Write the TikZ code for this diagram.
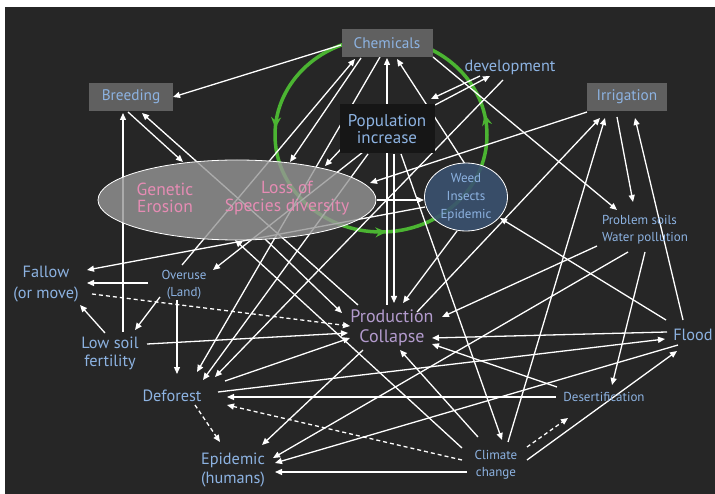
\documentclass[tikz,border=0pt]{standalone}
\usepackage{fontspec}
\setmainfont{PT Sans}
\usetikzlibrary{arrows.meta,shapes.geometric,decorations.markings}
\definecolor{bgdark}{RGB}{38,38,38}
\definecolor{boxgrey}{RGB}{96,96,96}
\definecolor{popbox}{RGB}{22,22,22}
\definecolor{labblue}{RGB}{141,179,226}
\definecolor{prodpurple}{RGB}{179,155,205}
\definecolor{pinktxt}{RGB}{230,140,180}
\definecolor{ellgrey}{RGB}{150,150,150}
\definecolor{weedblue}{RGB}{58,82,112}
\definecolor{greenarc}{RGB}{75,180,50}
\pgfdeclarelayer{bg}
\pgfdeclarelayer{fg}
\pgfsetlayers{bg,main,fg}
\tikzset{
  conn/.style={draw=white, line width=1.3pt, -{Triangle[length=7pt,width=6pt]}},
  dconn/.style={conn, dash pattern=on 4pt off 3pt},
  lbl/.style={text=labblue, align=center, inner sep=0pt},
  big/.style={font=\fontsize{16.3}{19}\selectfont},
  small/.style={font=\fontsize{13}{17}\selectfont},
  greybox/.style={fill=boxgrey, text=labblue, minimum height=28pt, inner sep=0pt, font=\fontsize{15.3}{17}\selectfont}
}
\begin{document}
\begin{tikzpicture}[x=1pt,y=-1pt]
\useasboundingbox (0,0) rectangle (715,494);
\begin{pgfonlayer}{bg}
\fill[white] (0,0) rectangle (715,494);
\fill[bgdark] (5,7) rectangle (715,494);
\begin{scope}[x=1pt,y=1pt]
\draw[greenarc, line width=3.5pt, postaction={decorate},
  decoration={markings,
    mark=at position 0.24 with {\arrow{Stealth[length=11pt,width=10pt]}},
    mark=at position 0.51 with {\arrow{Stealth[length=11pt,width=10pt]}},
    mark=at position 0.785 with {\arrow{Stealth[length=11pt,width=10pt]}}}]
  (381,-38) arc[start angle=90, end angle=449, x radius=106pt, y radius=97pt];
\end{scope}
\end{pgfonlayer}

\begin{pgfonlayer}{fg}
\node[ellipse, draw=white, line width=0.8pt, fill=ellgrey, fill opacity=0.8, minimum width=278pt, minimum height=80pt, inner sep=0pt] (ell) at (237,200) {};
\node[text=pinktxt, align=center, inner sep=0pt, font=\fontsize{17.5}{17.5}\selectfont] (gen) at (165,198) {Genetic\\Erosion};
\node[text=pinktxt, align=center, inner sep=0pt, font=\fontsize{17.5}{17.5}\selectfont] (loss) at (287,198) {Loss of\\Species diversity};
\node[ellipse, draw=white, line width=0.8pt, fill=weedblue, fill opacity=0.9, text opacity=1, minimum width=83pt, minimum height=68pt, inner sep=0pt, text=labblue, align=center, font=\fontsize{13}{18}\selectfont] (weed) at (466,197) {Weed\\Insects\\Epidemic};
\node[greybox, minimum width=91pt] (chem) at (387,43) {Chemicals};
\node[greybox, minimum width=84pt] (breed) at (131,97) {Breeding};
\node[greybox, minimum width=80pt] (irr) at (627,97) {Irrigation};
\node[fill=popbox, minimum width=95pt, minimum height=49pt, inner sep=0pt, text=labblue, align=center, font=\fontsize{17}{17}\selectfont] (pop) at (387,129) {Population\\increase};
\node[lbl, big] (dev) at (510,67) {development};
\node[text=labblue, align=left, inner sep=0pt, small] (prob) at (645,230) {Problem soils\\Water pollution};
\node[lbl, font=\fontsize{16.3}{21}\selectfont] (fallow) at (46,284) {Fallow\\(or move)};
\node[lbl, small] (overuse) at (184,285) {Overuse\\(Land)};
\node[lbl, font=\fontsize{16.3}{18}\selectfont] (lowsoil) at (110,353) {Low soil\\fertility};
\node[lbl, big] (deforest) at (172,396) {Deforest};
\node[lbl, font=\fontsize{16.3}{19}\selectfont] (epi) at (233,470) {Epidemic\\(humans)};
\node[text=prodpurple, align=center, inner sep=0pt, font=\fontsize{18}{20}\selectfont] (prod) at (392,328) {Production\\Collapse};
\node[lbl, big] (flood) at (693,335) {Flood};
\node[lbl, small] (desert) at (604,397) {Desertification};
\node[lbl, small] (climate) at (496,465) {Climate\\change};
\end{pgfonlayer}

% connectors
\draw[conn] ([shift={(-46,2)}]chem.center) -- ([shift={(42,0)}]breed.center);
\draw[conn] ([shift={(-2,-20)}]overuse.center) -- ([shift={(-32,16)}]chem.center);
\draw[conn] ([shift={(-26,15)}]chem.center) -- ([shift={(53,-38)}]ell.center);
\draw[conn] ([shift={(-7,14)}]chem.center) -- ([shift={(25,-24)}]deforest.center);
\draw[conn] ([shift={(-5,-23)}]prod.center) -- ([shift={(0,15)}]chem.center);
\draw[conn] ([shift={(7,25)}]pop.center) -- ([shift={(2,-25)}]prod.center);
\draw[conn] ([shift={(-1,-33)}]weed.center) -- ([shift={(10,16)}]chem.center);
\draw[conn] ([shift={(46,14)}]chem.center) -- ([shift={(-28,-20)}]prob.center);
\draw[conn] ([shift={(48,-24)}]pop.center) -- ([shift={(-20,9)}]dev.center);
\draw[conn] ([shift={(-30,9)}]dev.center) -- ([shift={(44,-30)}]pop.center);
\draw[conn] ([shift={(-7,13)}]dev.center) -- ([shift={(43,-19)}]deforest.center);
\draw[conn] ([shift={(-45,19)}]pop.center) -- ([shift={(88,-34)}]ell.center);
\draw[conn] ([shift={(-24,23)}]pop.center) -- ([shift={(29,-15)}]overuse.center);
\draw[conn] ([shift={(-19,25)}]pop.center) -- ([shift={(31,-16)}]deforest.center);
\draw[conn] ([shift={(14,25)}]pop.center) -- ([shift={(6,-25)}]climate.center);
\draw[conn] ([shift={(-3,15)}]breed.center) -- ([shift={(-54,-38)}]ell.center);
\draw[conn] ([shift={(-34,-23)}]prod.center) -- ([shift={(11,16)}]breed.center);
\draw[conn] ([shift={(13,-21)}]lowsoil.center) -- ([shift={(-8,16)}]breed.center);
\draw[conn] ([shift={(-40,15)}]irr.center) -- ([shift={(133,-17)}]ell.center);
\draw[conn] ([shift={(140,0)}]ell.center) -- ([shift={(-42,3)}]weed.center);
\draw[conn] ([shift={(-41,10)}]weed.center) -- ([shift={(41,-14)}]fallow.center);
\draw[conn] ([shift={(-9,34)}]weed.center) -- ([shift={(11,-25)}]prod.center);
\draw[conn] ([shift={(25,-16)}]prod.center) -- ([shift={(-27,21)}]irr.center);
\draw[conn] ([shift={(12,-23)}]climate.center) -- ([shift={(-22,21)}]irr.center);
\draw[conn] ([shift={(-10,-15)}]flood.center) -- ([shift={(8,21)}]irr.center);
\draw[conn] ([shift={(-10,20)}]irr.center) -- ([shift={(-12,-28)}]prob.center);
\draw[conn] ([shift={(-27,-15)}]flood.center) -- ([shift={(34,21)}]weed.center);
\draw[conn] ([shift={(-48,16)}]prob.center) -- ([shift={(50,-11)}]prod.center);
\draw[conn] ([shift={(-17,22)}]prob.center) -- ([shift={(40,-12)}]epi.center);
\draw[conn] ([shift={(0,22)}]prob.center) -- ([shift={(8,-12)}]desert.center);
\draw[conn] ([shift={(-26,-3)}]flood.center) -- ([shift={(40,10)}]prod.center);
\draw[conn] ([shift={(46,-4)}]deforest.center) -- ([shift={(-28,4)}]flood.center);
\draw[conn] ([shift={(-15,10)}]flood.center) -- ([shift={(42,-7)}]epi.center);
\draw[conn] ([shift={(31,-5)}]climate.center) -- ([shift={(-16,16)}]flood.center);
\draw[conn] ([shift={(-47,-10)}]desert.center) -- ([shift={(40,16)}]prod.center);
\draw[conn] ([shift={(-48,0)}]desert.center) -- ([shift={(55,1)}]deforest.center);
\draw[conn] ([shift={(-18,-28)}]climate.center) -- ([shift={(8,22)}]prod.center);
\draw[conn] ([shift={(-34,-17)}]climate.center) -- ([shift={(-2,40)}]ell.center);
\draw[conn] ([shift={(-29,7)}]climate.center) -- ([shift={(42,2)}]epi.center);
\draw[conn] ([shift={(-29,22)}]prod.center) -- ([shift={(29,-25)}]epi.center);
\draw[conn] ([shift={(28,39)}]ell.center) -- ([shift={(-50,-15)}]prod.center);
\draw[conn] ([shift={(-36,-2)}]overuse.center) -- ([shift={(41,-1)}]fallow.center);
\draw[conn] ([shift={(-5,-20)}]lowsoil.center) -- ([shift={(34,21)}]fallow.center);
\draw[conn] ([shift={(-24,12)}]overuse.center) -- ([shift={(25,-23)}]lowsoil.center);
\draw[conn] ([shift={(-7,15)}]overuse.center) -- ([shift={(5,-22)}]deforest.center);
\draw[conn] ([shift={(37,-9)}]lowsoil.center) -- ([shift={(-44,5)}]prod.center);
\draw[conn] ([shift={(53,-15)}]deforest.center) -- ([shift={(-42,10)}]prod.center);
\draw[dconn] ([shift={(46,10)}]fallow.center) -- ([shift={(-42,-2)}]prod.center);
\draw[dconn] ([shift={(23,9)}]deforest.center) -- ([shift={(-13,-28)}]epi.center);
\draw[dconn] ([shift={(-34,-5)}]climate.center) -- ([shift={(55,9)}]deforest.center);
\draw[dconn] ([shift={(31,-18)}]climate.center) -- ([shift={(-36,21)}]desert.center);
\end{tikzpicture}
\end{document}
